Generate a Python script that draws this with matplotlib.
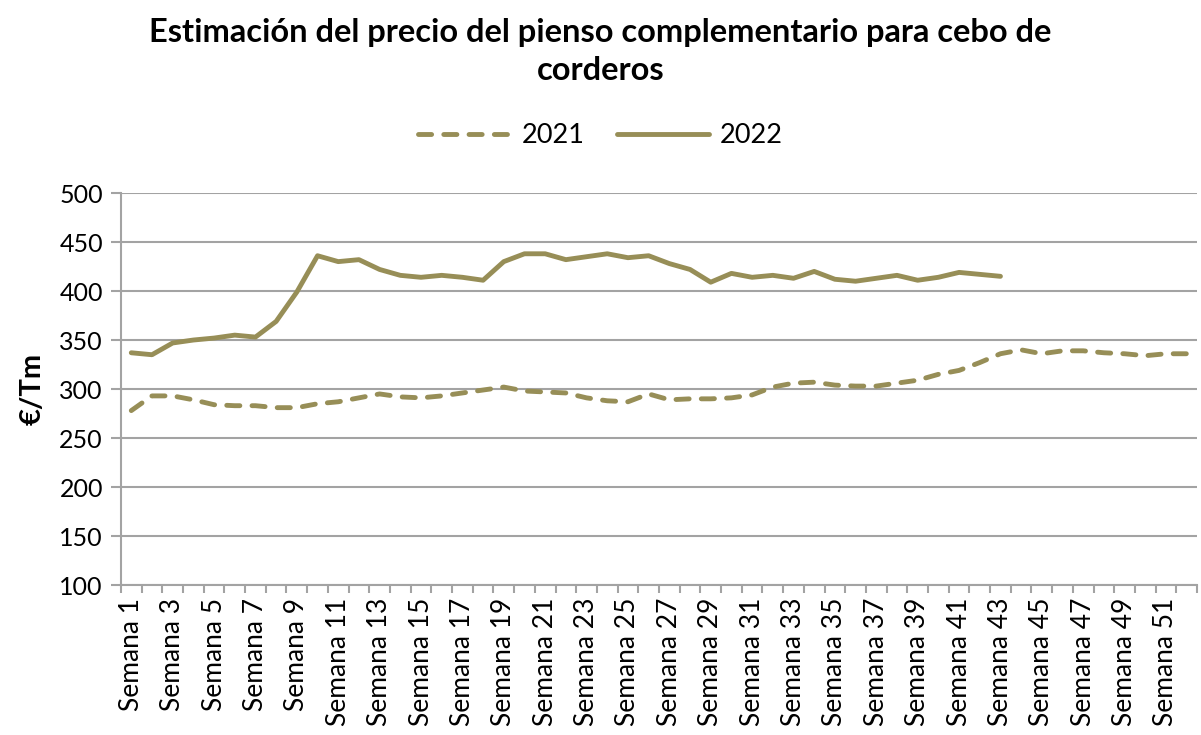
import matplotlib
matplotlib.use("Agg")
import matplotlib.pyplot as plt
import numpy as np

plt.rcParams['font.family'] = ['Lato', 'DejaVu Sans']

# semanas 1..52
semanas = ["Semana %d" % i for i in range(1, 53)]

# precio 2021 (52 semanas)
precio_2021 = [278, 293, 293, 289, 284, 283, 283, 281, 281, 285,
               287, 291, 295, 292, 291, 293, 296, 299, 302, 298,
               297, 296, 291, 288, 287, 295, 289, 290, 290, 291,
               294, 302, 306, 307, 304, 303, 303, 306, 309, 315,
               319, 327, 336, 340, 336, 339, 339, 337, 336, 334,
               336, 336]

# precio 2022 (hasta semana 43)
precio_2022 = [337, 335, 347, 350, 352, 355, 353, 369, 399, 436,
               430, 432, 422, 416, 414, 416, 414, 411, 430, 438,
               438, 432, 435, 438, 434, 436, 428, 422, 409, 418,
               414, 416, 413, 420, 412, 410, 413, 416, 411, 414,
               419, 417, 415]

color = '#978E57'
grid_c = '#A3A3A3'

fig = plt.figure(figsize=(12.01, 7.35), dpi=100)
ax = fig.add_axes([0.1007, 0.204, 0.8960, 0.5334])

x = np.arange(len(semanas))
ax.plot(x, precio_2021, color=color, lw=3.5, dashes=(2.7, 2.5),
        dash_capstyle='round', solid_capstyle='round', label='2021')
ax.plot(x[:len(precio_2022)], precio_2022, color=color, lw=3.5,
        solid_capstyle='round', solid_joinstyle='round', label='2022')

ax.set_xlim(-0.5, len(semanas) - 0.5)
ax.set_ylim(100, 500)
ax.set_yticks(range(100, 501, 50))
ax.yaxis.grid(True, color=grid_c, lw=1.5)
ax.set_axisbelow(True)

ax.set_xticks(x[::2])
ax.set_xticklabels(semanas[::2], rotation=90, fontsize=19)
ax.set_xticks(np.arange(-0.5, len(semanas)), minor=True)
ax.tick_params(axis='x', which='major', length=0, pad=9)
ax.tick_params(axis='x', which='minor', length=6, width=1.5, color=grid_c, direction='out')
ax.tick_params(axis='y', length=7, width=1.5, color=grid_c, labelsize=18, pad=6)

for s in ['top', 'right']:
    ax.spines[s].set_visible(False)
for s in ['left', 'bottom']:
    ax.spines[s].set_color(grid_c)
    ax.spines[s].set_linewidth(1.5)

ax.set_ylabel('€/Tm', fontsize=21, fontweight='bold', labelpad=10)

fig.text(0.5, 0.975, 'Estimación del precio del pienso complementario para cebo de\ncorderos',
         ha='center', va='top', fontsize=23.5, fontweight='bold', linespacing=1.35)

leg = fig.legend(loc='center', bbox_to_anchor=(0.5, 0.815), ncol=2, frameon=False,
                 fontsize=19.5, handlelength=3.4, columnspacing=1.2, handletextpad=0.4)

fig.savefig('out.png', dpi=100)
